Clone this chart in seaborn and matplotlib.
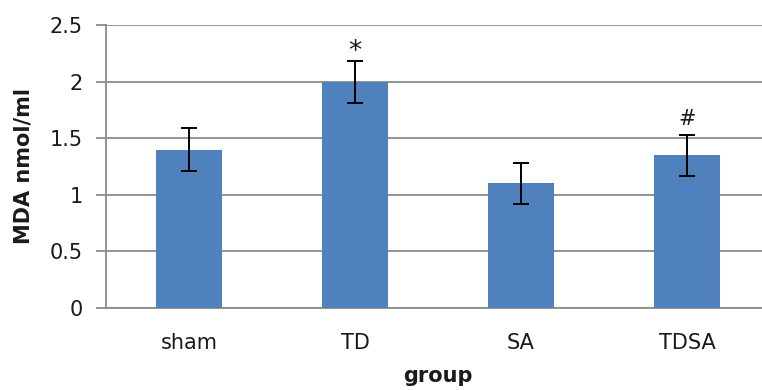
import matplotlib
matplotlib.use("Agg")
import matplotlib.pyplot as plt
import seaborn as sns
import pandas as pd

# MDA levels per group, with standard error
groups = ["sham", "TD", "SA", "TDSA"]
mda = [1.40, 2.00, 1.10, 1.35]
sem = [0.19, 0.185, 0.18, 0.18]
marks = ["", "*", "", "#"]

df = pd.DataFrame({"group": groups, "mda": mda})

sns.set_theme(style="white")
plt.rcParams["font.family"] = ["DejaVu Sans"]

W, H = 762, 390
fig = plt.figure(figsize=(W / 100, H / 100), dpi=100)
ax = fig.add_axes([106 / W, 82 / H, 664 / W, 283 / H])

bar_blue = "#4F81BD"
grid_gray = "#8A8A8A"
text_col = "#1a1a1a"

sns.barplot(data=df, x="group", y="mda", color=bar_blue, saturation=1,
            width=0.4, errorbar=None, linewidth=0, ax=ax, zorder=3)

ax.errorbar(range(len(groups)), mda, yerr=sem, fmt="none", ecolor="black",
            elinewidth=1.4, capsize=6, capthick=1.4, zorder=4)

# significance marks above the error bars (the asterisk glyph sits high,
# so it gets a smaller gap)
mark_style = {"*": (19, 0.08), "#": (15, 0.14)}
for i, m in enumerate(marks):
    if m:
        size, gap = mark_style[m]
        ax.text(i, mda[i] + sem[i] + gap, m, ha="center", va="center",
                fontsize=size, color=text_col)

ax.set_ylim(0, 2.5)
ax.set_xlim(-0.5, 3.5)
ax.set_yticks([0, 0.5, 1, 1.5, 2, 2.5])
ax.set_yticklabels(["0", "0.5", "1", "1.5", "2", "2.5"])
ax.yaxis.grid(True, color=grid_gray, linewidth=1.3, zorder=0)
ax.set_axisbelow(True)

for side in ["top", "right"]:
    ax.spines[side].set_visible(False)
for side in ["left", "bottom"]:
    ax.spines[side].set_color(grid_gray)
    ax.spines[side].set_linewidth(1.3)

ax.tick_params(axis="y", which="major", direction="out", length=7.5,
               width=1.3, color=grid_gray, pad=9, labelsize=15,
               labelcolor=text_col, left=True)
ax.tick_params(axis="x", length=0, pad=18, labelsize=15, labelcolor=text_col)

ax.set_xlabel("group", fontsize=15, fontweight="bold", labelpad=9,
              color=text_col)
ax.set_ylabel("MDA nmol/ml", fontsize=15, fontweight="bold", labelpad=12,
              color=text_col)

fig.savefig("out.png", dpi=100)
